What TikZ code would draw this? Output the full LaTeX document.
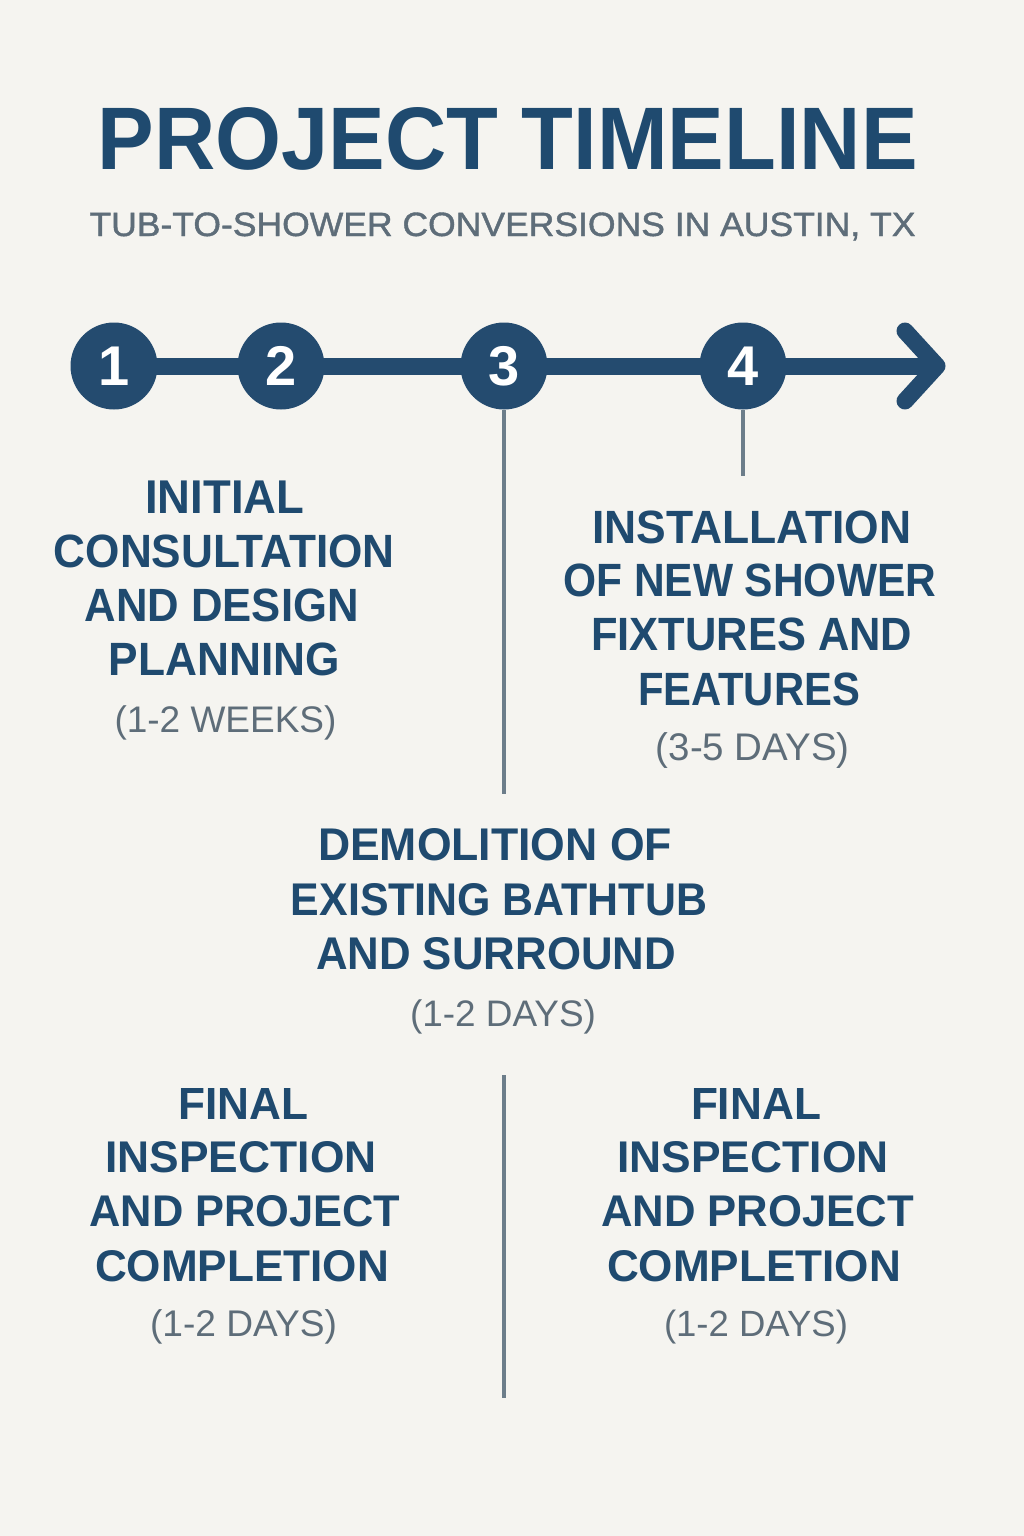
\documentclass[tikz,border=0pt]{standalone}
\usepackage{fontspec}
\usepackage{graphicx}
\setmainfont{Liberation Sans}
\newfontfamily\subfont[FakeBold=1.2]{Liberation Sans}
\definecolor{bg}{HTML}{F5F4F0}
\definecolor{navy}{HTML}{244B6F}
\definecolor{txtnavy}{HTML}{1F4A6F}
\definecolor{txtgray}{HTML}{5E6D79}
\definecolor{linegray}{HTML}{6C7D8A}
\newcommand\bline[6]{\node[lbl, text=txtnavy] (#1) at (#2,#3) {\resizebox{#4pt}{#5pt}{\fontsize{46}{46}\bfseries #6}};}
\newcommand\gline[5]{\node[lbl, text=txtgray] (#1) at (#2,#3) {\resizebox{#4pt}{!}{\fontsize{36}{36}\selectfont #5}};}
\begin{document}
\begin{tikzpicture}[x=1pt,y=-1pt,
  lbl/.style={anchor=base, inner sep=0pt, outer sep=0pt},
  stepdot/.style={circle, fill=navy, minimum size=87pt, inner sep=0pt, text=white, font=\fontsize{56}{56}\bfseries},
  mainline/.style={draw=navy, line width=17pt},
  tick/.style={draw=linegray, line width=4.5pt}]
\path[use as bounding box, fill=bg] (0,0) rectangle (1024,1536);
% title
\node[lbl, text=txtnavy] (title) at (507.8,169.3) {\resizebox{820pt}{62pt}{\fontsize{87}{87}\bfseries PROJECT TIMELINE}};
\node[lbl, text=txtgray] (subtitle) at (502.5,236) {\resizebox{826pt}{23.5pt}{\fontsize{32}{32}\subfont TUB-TO-SHOWER CONVERSIONS IN AUSTIN, TX}};
% timeline
\coordinate (tip) at (937,366);
\coordinate (ct) at (905,331);
\coordinate (cb) at (905,401);
\coordinate (start) at (114,366);
\draw[mainline] (start) -- (tip);
\draw[mainline, line cap=round, line join=round] (ct) -- (tip) -- (cb);
\node[stepdot] (c1) at (114,366) {1};
\node[stepdot] (c2) at (281,366) {2};
\node[stepdot] (c3) at (504,366) {3};
\node[stepdot] (c4) at (743,366) {4};
\coordinate (e3) at (504,794);
\coordinate (e4) at (743,476);
\draw[tick] (c3.south) -- (e3);
\draw[tick] (c4.south) -- (e4);
\coordinate (dtop) at (504,1075);
\coordinate (dbot) at (504,1398);
\draw[tick] (dtop) -- (dbot);
% block 1
\bline{a1}{224.8}{513.3}{159}{32.6}{INITIAL}
\bline{a2}{224.3}{567.3}{341}{32.6}{CONSULTATION}
\bline{a3}{221.7}{621.7}{274}{32.6}{AND DESIGN}
\bline{a4}{224.3}{675}{231}{32.6}{PLANNING}
\gline{a5}{225.5}{732.7}{222}{(1-2 WEEKS)}
% block 4
\bline{d1}{751.8}{543.3}{319}{32.6}{INSTALLATION}
\bline{d2}{749.7}{596.7}{373}{32.6}{OF NEW SHOWER}
\bline{d3}{751.7}{650.7}{321}{32.6}{FIXTURES AND}
\bline{d4}{749}{705}{222}{32.6}{FEATURES}
\gline{d5}{752.8}{760.5}{194}{(3-5 DAYS)}
% block 3
\bline{m1}{495}{860}{354}{32}{DEMOLITION OF}
\bline{m2}{499}{915}{416}{32}{EXISTING BATHTUB}
\bline{m3}{496}{969.3}{360}{32}{AND SURROUND}
\gline{m4}{503}{1026.7}{186}{(1-2 DAYS)}
% bottom left
\bline{l1}{243.6}{1119.3}{130}{31}{FINAL}
\bline{l2}{241}{1172.7}{271}{31}{INSPECTION}
\bline{l3}{245}{1226.7}{311}{31}{AND PROJECT}
\bline{l4}{242}{1281.7}{294}{31}{COMPLETION}
\gline{l5}{243.6}{1336.7}{187}{(1-2 DAYS)}
% bottom right
\bline{r1}{756}{1119.3}{130}{31}{FINAL}
\bline{r2}{753}{1172.7}{271}{31}{INSPECTION}
\bline{r3}{757.5}{1226.7}{313}{31}{AND PROJECT}
\bline{r4}{754}{1281.7}{294}{31}{COMPLETION}
\gline{r5}{756}{1336.7}{184}{(1-2 DAYS)}
\end{tikzpicture}
\end{document}
